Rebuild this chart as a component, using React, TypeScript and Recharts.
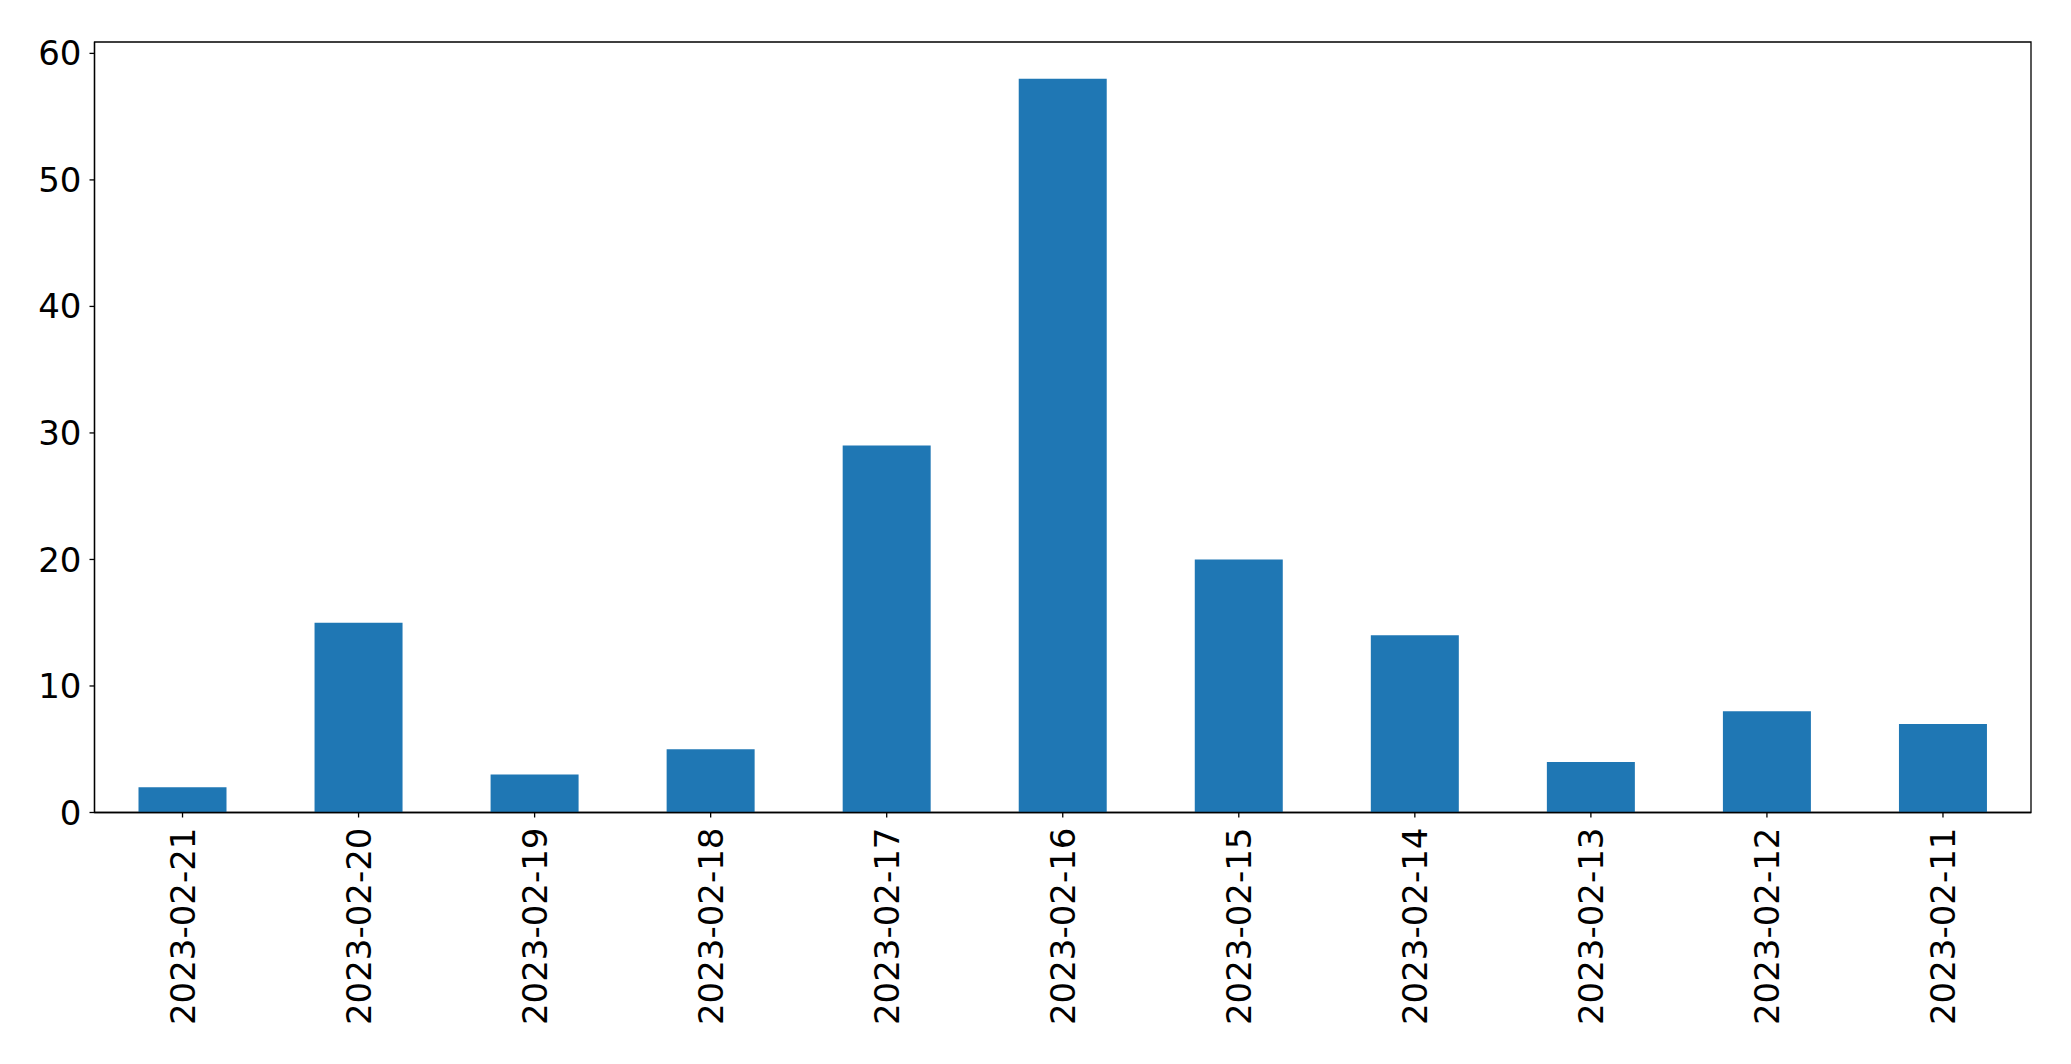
import { BarChart, Bar, XAxis, YAxis, ReferenceArea } from "recharts";

const dates = [
  "2023-02-21",
  "2023-02-20",
  "2023-02-19",
  "2023-02-18",
  "2023-02-17",
  "2023-02-16",
  "2023-02-15",
  "2023-02-14",
  "2023-02-13",
  "2023-02-12",
  "2023-02-11",
];
const counts = [2, 15, 3, 5, 29, 58, 20, 14, 4, 8, 7];
const yTicks = [0, 10, 20, 30, 40, 50, 60];

const data = dates.map((d, i) => ({ date: d, count: counts[i] }));

const FONT = "DejaVu Sans, sans-serif";
const Y_MAX = 60.9;

const DateTick = (props: any) => {
  const { x, y, payload } = props;
  return (
    <text
      x={0}
      y={0}
      transform={`translate(${x},${y + 8}) rotate(-90)`}
      textAnchor="end"
      dominantBaseline="central"
      fontSize={34}
      fontFamily={FONT}
      fill="#000"
    >
      {payload.value}
    </text>
  );
};

const App = () => {
  return (
    <div style={{ position: "absolute", left: 0, top: 0, background: "#fff" }}>
      <BarChart
        width={2071}
        height={1064}
        data={data}
        margin={{ top: 42, right: 40, bottom: 0, left: 0 }}
      >
        <XAxis
          dataKey="date"
          interval={0}
          height={251.5}
          axisLine={{ stroke: "#000", strokeWidth: 1.3 }}
          tickLine={{ stroke: "#000", strokeWidth: 1.3 }}
          tickSize={5}
          tick={<DateTick />}
        />
        <YAxis
          type="number"
          domain={[0, Y_MAX]}
          ticks={yTicks}
          width={94.5}
          axisLine={{ stroke: "#000", strokeWidth: 1.3 }}
          tickLine={{ stroke: "#000", strokeWidth: 1.3 }}
          tickSize={5}
          tickMargin={8}
          tick={{ fontSize: 34, fontFamily: FONT, fill: "#000" }}
          allowDataOverflow
        />
        <Bar dataKey="count" fill="#1f77b4" barSize={88} isAnimationActive={false} />
        <ReferenceArea
          y1={0}
          y2={Y_MAX}
          fill="none"
          fillOpacity={0}
          stroke="#000"
          strokeWidth={1.3}
          ifOverflow="visible"
        />
      </BarChart>
    </div>
  );
};

export default App;
